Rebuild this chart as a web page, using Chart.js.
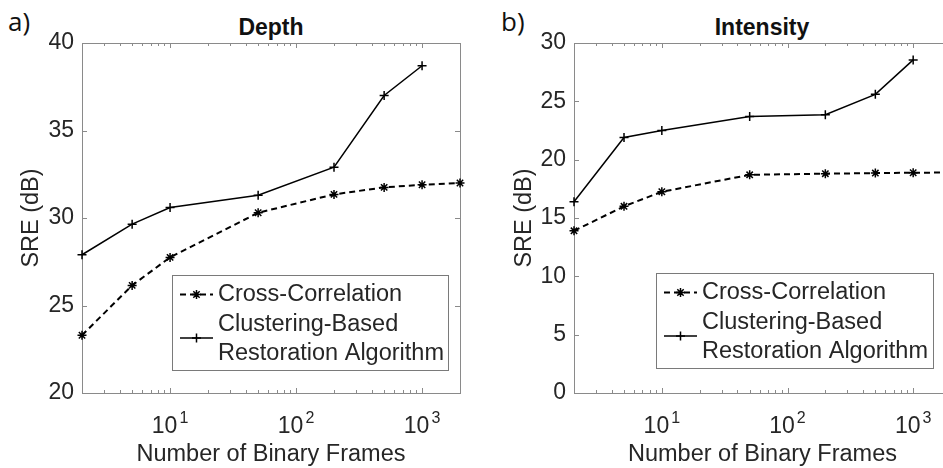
<!DOCTYPE html>
<html>
<head>
<meta charset="utf-8">
<script src="https://cdn.jsdelivr.net/npm/chart.js@4.4.1/dist/chart.umd.min.js"></script>
<style>
    html, body { margin: 0; padding: 0; background: #fff; }
    body { position: relative; width: 943px; height: 468px; overflow: hidden; }
    canvas { position: absolute; top: 0; }
    #depthChart { left: 0; }
    #intensityChart { left: 470px; }
    .panel { position: absolute; font-family: "Open Sans", sans-serif; font-size: 26px; line-height: 26px; color: #111; }
    .titulo { position: absolute; font-family: "Liberation Sans", Arial, sans-serif; font-weight: bold; font-size: 23px; line-height: 23px; color: #111; transform: translateX(-50%); }
</style>
</head>
<body>
<div class="panel" style="left:8px; top:8px;">a)</div>
<div class="panel" style="left:501px; top:8px;">b)</div>
<div class="titulo" style="left:271px; top:16px;">Depth</div>
<div class="titulo" style="left:762px; top:16px;">Intensity</div>
<canvas id="depthChart" width="470" height="468"></canvas>
<canvas id="intensityChart" width="490" height="468"></canvas>
<script>
// number of binary frames (x)
const framesCrossCorr = [2, 5, 10, 50, 200, 500, 1000, 2000];
const framesClustering = [2, 5, 10, 50, 200, 500, 1000];

// SRE values (dB)
const depthCrossCorr = [23.3, 26.15, 27.75, 30.3, 31.35, 31.75, 31.9, 32.0];
const depthClustering = [27.9, 29.65, 30.6, 31.3, 32.9, 37.0, 38.7];
const intensityCrossCorr = [13.9, 16.0, 17.25, 18.7, 18.8, 18.85, 18.88, 18.9];
const intensityClustering = [16.4, 21.9, 22.5, 23.7, 23.85, 25.6, 28.55];

// ticks
const xTickValues = [10, 100, 1000];
const xTickBase = '10';
const xTickExpoentes = ['1', '2', '3'];
const depthTicks = [20, 25, 30, 35, 40];
const intensityTicks = [0, 5, 10, 15, 20, 25, 30];

const legendLabels = ['Cross-Correlation', ['Clustering-Based', 'Restoration Algorithm']];

const FONTE = '"Liberation Sans", Arial, sans-serif';
const COR_EIXO = '#8a8a8a';
const COR_TEXTO = '#262626';

function pontos(xs, ys) {
    return xs.map((x, i) => ({ x: x, y: ys[i] }));
}

// box + inward ticks + 10^n labels, MATLAB style
const moldura = {
    id: 'moldura',
    beforeDatasetsDraw(chart) {
        const ctx = chart.ctx;
        const area = chart.chartArea;
        const sx = chart.scales.x;
        const sy = chart.scales.y;
        ctx.save();
        ctx.strokeStyle = COR_EIXO;
        ctx.lineWidth = 1;
        ctx.strokeRect(Math.round(area.left) + 0.5, Math.round(area.top) + 0.5,
            Math.round(area.right - area.left), Math.round(area.bottom - area.top));
        ctx.beginPath();
        for (let k = Math.floor(Math.log10(sx.min)); k <= Math.ceil(Math.log10(sx.max)); k++) {
            for (let m = 1; m <= 9; m++) {
                const v = m * Math.pow(10, k);
                if (v < sx.min || v > sx.max) continue;
                const px = Math.round(sx.getPixelForValue(v)) + 0.5;
                const len = m === 1 ? 5 : 3;
                ctx.moveTo(px, area.bottom);
                ctx.lineTo(px, area.bottom - len);
                ctx.moveTo(px, area.top);
                ctx.lineTo(px, area.top + len);
            }
        }
        sy.ticks.forEach(t => {
            const py = Math.round(sy.getPixelForValue(t.value)) + 0.5;
            ctx.moveTo(area.left, py);
            ctx.lineTo(area.left + 5, py);
            ctx.moveTo(area.right, py);
            ctx.lineTo(area.right - 5, py);
        });
        ctx.stroke();

        // x tick labels with superscript exponent
        ctx.fillStyle = COR_TEXTO;
        ctx.textBaseline = 'alphabetic';
        ctx.textAlign = 'left';
        xTickValues.forEach((v, i) => {
            const px = sx.getPixelForValue(v);
            ctx.font = '23px ' + FONTE;
            const wBase = ctx.measureText(xTickBase).width;
            ctx.font = '16px ' + FONTE;
            const wExp = ctx.measureText(xTickExpoentes[i]).width;
            const x0 = px - (wBase + 2 + wExp) / 2;
            ctx.font = '23px ' + FONTE;
            ctx.fillText(xTickBase, x0, area.bottom + 40);
            ctx.font = '16px ' + FONTE;
            ctx.fillText(xTickExpoentes[i], x0 + wBase + 2, area.bottom + 30);
        });
        ctx.restore();
    }
};

function desenharAmostra(ctx, x0, x1, y, ds) {
    ctx.save();
    ctx.strokeStyle = '#000';
    ctx.lineWidth = ds.borderWidth;
    ctx.setLineDash(ds.borderDash || []);
    ctx.beginPath();
    ctx.moveTo(x0, y);
    ctx.lineTo(x1, y);
    ctx.stroke();
    ctx.setLineDash([]);
    ctx.lineWidth = ds.pointBorderWidth;
    Chart.helpers.drawPoint(ctx, { pointStyle: ds.pointStyle, radius: ds.pointRadius, rotation: 0, borderWidth: ds.pointBorderWidth }, (x0 + x1) / 2, y);
    ctx.restore();
}

// legend box drawn inside the axes
const legenda = {
    id: 'legenda',
    afterDatasetsDraw(chart, args, opts) {
        const ctx = chart.ctx;
        const area = chart.chartArea;
        const left = area.left + opts.left;
        const top = area.top + opts.top;
        const ds = chart.data.datasets;
        ctx.save();
        ctx.fillStyle = '#fff';
        ctx.fillRect(left, top, opts.width, opts.height);
        ctx.strokeStyle = '#7a7a7a';
        ctx.lineWidth = 1;
        ctx.strokeRect(Math.round(left) + 0.5, Math.round(top) + 0.5, opts.width, opts.height);

        desenharAmostra(ctx, left + 8, left + 41, top + 19.5, ds[0]);
        desenharAmostra(ctx, left + 8, left + 41, top + 63, ds[1]);

        ctx.fillStyle = COR_TEXTO;
        ctx.font = '23.5px ' + FONTE;
        ctx.textBaseline = 'middle';
        ctx.textAlign = 'left';
        ctx.fillText(legendLabels[0], left + 46, top + 19.5);
        ctx.fillText(legendLabels[1][0], left + 46, top + 49.5);
        ctx.fillText(legendLabels[1][1], left + 46, top + 79);
        ctx.restore();
    }
};

function criarGrafico(id, dadosCross, dadosCluster, yTicks, yLargura, yTituloPad, direita, posLegenda) {
    const ctx = document.getElementById(id).getContext('2d');
    return new Chart(ctx, {
        type: 'line',
        data: {
            datasets: [
                {
                    label: legendLabels[0],
                    data: pontos(framesCrossCorr, dadosCross),
                    borderColor: '#000',
                    borderWidth: 2,
                    borderDash: [6, 4],
                    pointStyle: 'star',
                    pointRadius: 4.5,
                    pointBorderWidth: 1.5,
                    pointBorderColor: '#000',
                    pointBackgroundColor: '#000',
                    tension: 0,
                    clip: false
                },
                {
                    label: legendLabels[1].join(' '),
                    data: pontos(framesClustering, dadosCluster),
                    borderColor: '#000',
                    borderWidth: 1.5,
                    pointStyle: 'cross',
                    pointRadius: 4.5,
                    pointBorderWidth: 1.5,
                    pointBorderColor: '#000',
                    pointBackgroundColor: '#000',
                    tension: 0,
                    clip: false
                }
            ]
        },
        options: {
            responsive: false,
            animation: false,
            devicePixelRatio: 1,
            events: [],
            layout: { padding: { top: 43, right: direita, bottom: 0, left: 0 } },
            scales: {
                x: {
                    type: 'logarithmic',
                    min: 2,
                    max: 2000,
                    grid: { display: false, drawTicks: false },
                    border: { display: false },
                    afterBuildTicks: function(scale) {
                        scale.ticks = xTickValues.map(v => ({ value: v }));
                    },
                    afterFit: function(scale) {
                        scale.height = 75;
                    },
                    ticks: { display: false },
                    title: {
                        display: true,
                        text: 'Number of Binary Frames',
                        color: COR_TEXTO,
                        font: { family: FONTE, size: 23.5 },
                        padding: { top: 0, bottom: -1 }
                    }
                },
                y: {
                    type: 'linear',
                    min: yTicks[0],
                    max: yTicks[yTicks.length - 1],
                    grid: { display: false, drawTicks: false },
                    border: { display: false },
                    afterBuildTicks: function(scale) {
                        scale.ticks = yTicks.map(v => ({ value: v }));
                    },
                    afterFit: function(scale) {
                        scale.width = yLargura;
                    },
                    ticks: {
                        color: COR_TEXTO,
                        padding: 8,
                        font: { family: FONTE, size: 23 }
                    },
                    title: {
                        display: true,
                        text: 'SRE (dB)',
                        color: COR_TEXTO,
                        font: { family: FONTE, size: 23.5 },
                        padding: { top: yTituloPad, bottom: 0 }
                    }
                }
            },
            plugins: {
                legend: { display: false },
                tooltip: { enabled: false },
                legenda: posLegenda
            }
        },
        plugins: [moldura, legenda]
    });
}

criarGrafico('depthChart', depthCrossCorr, depthClustering, depthTicks, 82, 17, 10,
    { left: 90, top: 232, width: 276, height: 95 });
criarGrafico('intensityChart', intensityCrossCorr, intensityClustering, intensityTicks, 104, 40, 9,
    { left: 82, top: 230, width: 277, height: 95 });
</script>
</body>
</html>
